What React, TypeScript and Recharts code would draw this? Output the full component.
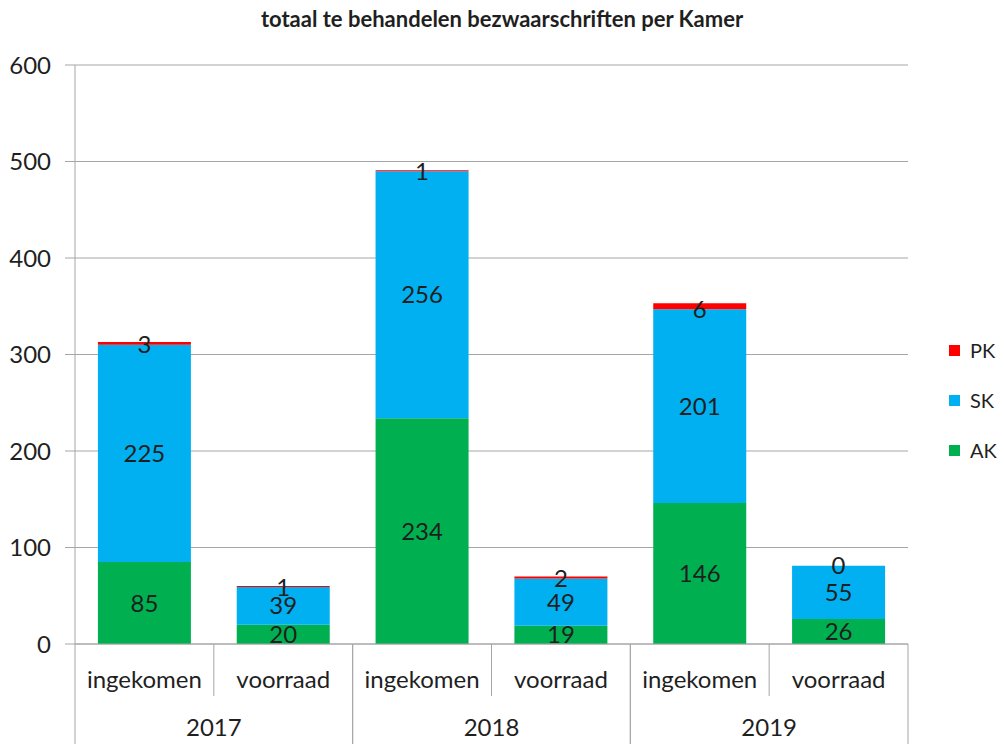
import React from 'react';
import { BarChart, Bar, XAxis, YAxis, CartesianGrid, LabelList } from 'recharts';

// categories / series
const categories = ['ingekomen', 'voorraad', 'ingekomen', 'voorraad', 'ingekomen', 'voorraad'];
const years = ['2017', '2017', '2018', '2018', '2019', '2019'];
const akValues = [85, 20, 234, 19, 146, 26];
const skValues = [225, 39, 256, 49, 201, 55];
const pkValues = [3, 1, 1, 2, 6, 0];
const yTicks = [0, 100, 200, 300, 400, 500, 600];

const series = [
  { key: 'PK', color: '#ff0000' },
  { key: 'SK', color: '#00b0f0' },
  { key: 'AK', color: '#00b050' },
];

const data = categories.map((c, i) => ({
  id: `${years[i]}-${c}`,
  label: c,
  year: years[i],
  AK: akValues[i],
  SK: skValues[i],
  PK: pkValues[i],
}));

const W = 1004;
const H = 744;
const LEFT = 75;
const RIGHT = 908;
const TOP = 65;
const AXIS1_H = 52;
const AXIS2_H = 48;
const BOTTOM = H - AXIS1_H - AXIS2_H; // plot bottom
const FONT = 'Lato, "Noto Sans", sans-serif';
const GRID = '#a6a6a6';
const TEXT = '#1f1f1f';

const bandW = (RIGHT - LEFT) / categories.length;
const yearW = (RIGHT - LEFT) / 3;

// eslint-disable-next-line @typescript-eslint/no-explicit-any
const CategoryTick = (props: any) => {
  const { x, index } = props;
  const label = categories[index] ?? '';
  return (
    <g>
      <text x={x} y={BOTTOM + 44} textAnchor="middle" fontSize={24} fontFamily={FONT} fill={TEXT}>
        {label}
      </text>
      {index % 2 === 1 && (
        <line x1={x - bandW / 2} x2={x - bandW / 2} y1={BOTTOM} y2={BOTTOM + AXIS1_H} stroke={GRID} />
      )}
    </g>
  );
};

// eslint-disable-next-line @typescript-eslint/no-explicit-any
const YearTick = (props: any) => {
  const { x, payload } = props;
  return (
    <g>
      <text x={x} y={H - 8} textAnchor="middle" fontSize={24} fontFamily={FONT} fill={TEXT}>
        {payload.value}
      </text>
      <line x1={x - yearW / 2} x2={x - yearW / 2} y1={BOTTOM} y2={H} stroke={GRID} />
      <line x1={x + yearW / 2} x2={x + yearW / 2} y1={BOTTOM} y2={H} stroke={GRID} />
    </g>
  );
};

// PK label sits on top of the SK segment (so a 0 still shows)
// eslint-disable-next-line @typescript-eslint/no-explicit-any
const PkLabel = (props: any) => {
  const { x, y, width, value } = props;
  return (
    <text
      x={x + width / 2}
      y={y - 1}
      textAnchor="middle"
      dominantBaseline="central"
      fontSize={24}
      fontFamily={FONT}
      fill={TEXT}
    >
      {value}
    </text>
  );
};

export default function App() {
  return (
    <div style={{ position: 'absolute', left: 0, top: 0, width: W, height: H, background: '#fff' }}>
      <div
        style={{
          position: 'absolute',
          top: 5,
          left: 0,
          width: W,
          textAlign: 'center',
          fontFamily: FONT,
          fontWeight: 700,
          fontSize: 22,
          color: TEXT,
        }}
      >
        totaal te behandelen bezwaarschriften per Kamer
      </div>
      <div style={{ position: 'absolute', left: 949, top: 325, fontFamily: FONT, fontSize: 20, color: TEXT }}>
        {series.map((s) => (
          <div key={s.key} style={{ display: 'flex', alignItems: 'center', height: 50 }}>
            <span style={{ width: 11, height: 11, background: s.color, display: 'inline-block', marginRight: 10 }} />
            <span>{s.key}</span>
          </div>
        ))}
      </div>
      <BarChart
        width={W}
        height={H}
        data={data}
        margin={{ top: TOP, right: W - RIGHT, bottom: 0, left: 0 }}
        barCategoryGap="16.5%"
      >
        <CartesianGrid vertical={false} stroke={GRID} />
        <XAxis
          xAxisId="main"
          dataKey="id"
          height={AXIS1_H}
          interval={0}
          stroke={GRID}
          tickLine={false}
          tick={<CategoryTick />}
        />
        <XAxis
          xAxisId="year"
          dataKey="year"
          allowDuplicatedCategory={false}
          height={AXIS2_H}
          axisLine={false}
          tickLine={false}
          interval={0}
          tick={<YearTick />}
        />
        <YAxis
          width={LEFT}
          domain={[0, 600]}
          ticks={yTicks}
          interval={0}
          stroke={GRID}
          tickSize={10}
          tickMargin={14}
          tick={{ fontSize: 24, fontFamily: FONT, fill: TEXT }}
        />
        <Bar xAxisId="main" dataKey="AK" stackId="a" fill="#00b050" isAnimationActive={false}>
          <LabelList dataKey="AK" position="center" fontSize={24} fontFamily={FONT} fill={TEXT} />
        </Bar>
        <Bar xAxisId="main" dataKey="SK" stackId="a" fill="#00b0f0" isAnimationActive={false}>
          <LabelList dataKey="SK" position="center" fontSize={24} fontFamily={FONT} fill={TEXT} />
          <LabelList dataKey="PK" content={<PkLabel />} />
        </Bar>
        <Bar xAxisId="main" dataKey="PK" stackId="a" fill="#ff0000" isAnimationActive={false} />
      </BarChart>
    </div>
  );
}
